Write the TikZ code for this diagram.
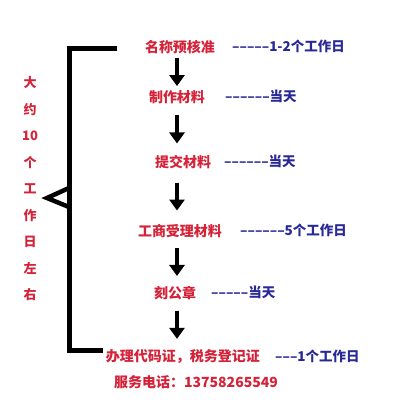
\documentclass[tikz,border=0pt]{standalone}
\usepackage{fontspec}
\newfontfamily\cjk{Noto Sans CJK SC}
\usetikzlibrary{arrows.meta,calc}
\definecolor{stepred}{RGB}{212,34,56}
\definecolor{noteblue}{RGB}{40,40,150}
\tikzset{
  stepnode/.style={text=stepred,font=\cjk\bfseries\fontsize{14}{14}\selectfont,inner sep=1pt},
  notenode/.style={text=noteblue,font=\cjk\bfseries\fontsize{13.5}{13.5}\selectfont,anchor=west,inner sep=0pt},
  flow/.style={-{Triangle[length=11pt,width=15pt]},line width=4.5pt}
}
\begin{document}
\begin{tikzpicture}[x=1pt,y=-1pt]
        \useasboundingbox(0,0)rectangle(416,400);
        % steps
        \node[stepnode](s1)at(180,47){名称预核准};
        \node[stepnode](s2)at(177,97){制作材料};
        \node[stepnode](s3)at(183,162){提交材料};
        \node[stepnode](s4)at(180,231){工商受理材料};
        \node[stepnode](s5)at(175,293){刻公章};
        \node[stepnode](s6)at(183,357){办理代码证，税务登记证};
        \node[stepnode](tel)at(196,382){服务电话：13758265549};
        % durations
        \node[notenode](d1)at(232,46){–––––1-2个工作日};
        \node[notenode](d2)at(225,96){––––––当天};
        \node[notenode](d3)at(224,161){––––––当天};
        \node[notenode](d4)at(240,230){––––––5个工作日};
        \node[notenode](d5)at(211,292){–––––当天};
        \node[notenode](d6)at(275,356){–––1个工作日};
        % arrows
        \coordinate(ax)at(177,0);
        \foreach \a/\b in {s1/s2,s2/s3,s3/s4,s4/s5,s5/s6}{
            \path(ax|-\a.south)coordinate(p)(ax|-\b.north)coordinate(q);
            \draw[flow]($(p)!.5!(q)+(0,-14)$)--($(p)!.5!(q)+(0,14)$);
        }
        % bracket
        \draw[line width=5pt,miter limit=4](117,48)--(69,48)--(69,350)--(103,350);
        \draw[line width=4.5pt](69,188)--(47,198)--(69,207);
        \node[stepnode,align=center,font=\cjk\fontsize{13}{26.5}\selectfont,inner sep=0pt](total)at(30,189)
            {\textbf{大}\\\textbf{约}\\\textbf{10}\\\textbf{个}\\\textbf{工}\\\textbf{作}\\\textbf{日}\\\textbf{左}\\\textbf{右}};
    \end{tikzpicture}
\end{document}
